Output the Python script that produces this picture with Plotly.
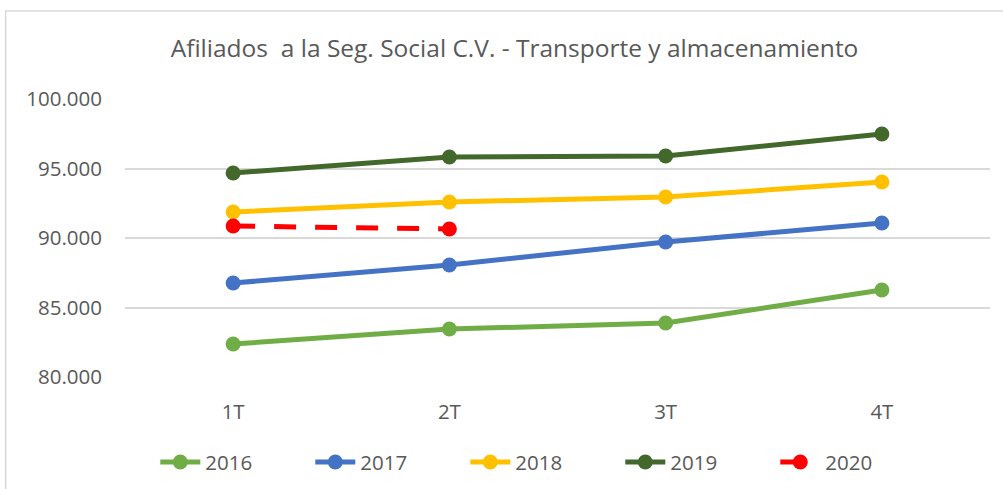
import plotly.graph_objects as go

quarters = ["1T", "2T", "3T", "4T"]
years = ["2016", "2017", "2018", "2019", "2020"]
v2016 = [82370, 83450, 83880, 86260]
v2017 = [86760, 88060, 89710, 91080]
v2018 = [91870, 92590, 92950, 94030]
v2019 = [94680, 95830, 95900, 97480]
v2020 = [90860, 90650]
y_ticks = [80000, 85000, 90000, 95000, 100000]

series = [v2016, v2017, v2018, v2019, v2020]
colors = ["#70AD47", "#4472C4", "#FFC000", "#43682B", "#FF0000"]
FONT = "Open Sans"
TEXT_GREY = "#595959"

fig = go.Figure()
for name, vals, col in zip(years, series, colors):
    fig.add_trace(go.Scatter(
        x=quarters[:len(vals)], y=vals,
        mode="lines+markers", name=name,
        line=dict(color=col, width=5, dash="22px,19px" if name == "2020" else "solid"),
        marker=dict(color=col, size=15),
    ))

fig.update_layout(
    width=1003, height=489,
    margin=dict(l=125, r=13, t=99, b=112),
    paper_bgcolor="white", plot_bgcolor="white",
    separators=",.",
    font=dict(family=FONT, color=TEXT_GREY, size=16),
    title=dict(
        text="Afiliados  a la Seg. Social C.V. - Transporte y almacenamiento",
        x=0.513, xanchor="center", y=0.9, yanchor="middle",
        font=dict(family=FONT, size=24.5, color=TEXT_GREY),
    ),
    showlegend=True,
    legend=dict(
        orientation="h", x=0.483, xanchor="center",
        yref="container", y=0.055, yanchor="middle",
        font=dict(family=FONT, size=20.5, color=TEXT_GREY),
        itemwidth=40, entrywidth=100,
    ),
    shapes=[dict(
        type="rect", xref="paper", yref="paper",
        x0=-0.138, x1=1.03, y0=-0.45, y1=1.3165,
        line=dict(color="#D9D9D9", width=1.5), fillcolor="rgba(0,0,0,0)",
        layer="below",
    )],
)
fig.update_xaxes(
    type="category", range=[-0.5, 3.5], showgrid=False, zeroline=False,
    showline=False, ticks="", ticklabelstandoff=20,
    tickfont=dict(size=20.5, color=TEXT_GREY),
)
fig.update_yaxes(
    range=[80000, 100000], tickvals=y_ticks, tickformat=",d",
    showgrid=True, gridcolor="#D9D9D9", gridwidth=1.5, zeroline=False,
    showline=False, ticks="", ticklabelstandoff=22,
    tickfont=dict(size=20.5, color=TEXT_GREY),
)

# the page's default 8px body margin would shift the whole chart
fig.write_html(
    "out.html",
    config={"displayModeBar": False},
    post_script="document.body.style.margin='0';",
)
